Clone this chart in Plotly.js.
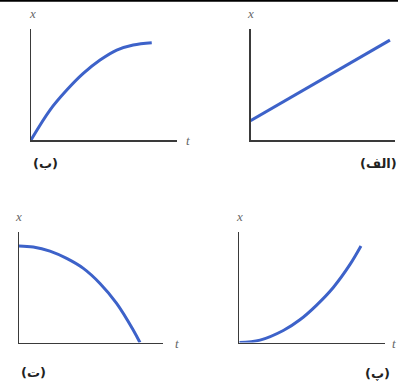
<!DOCTYPE html>
<html>
<head>
<meta charset="utf-8">
<script src="https://cdn.plot.ly/plotly-3.0.1.min.js"></script>
<style>html,body{margin:0;padding:0;background:#fff;}#chart{width:398px;height:382px;}</style>
</head>
<body>
<div id="chart"></div>
<script>
// Panel (ب) top-left: concave rise
const tB = [0, 0.13, 0.245, 0.358, 0.473, 0.587, 0.70, 0.827];
const xB = [0, 0.27, 0.45, 0.60, 0.72, 0.81, 0.856, 0.877];
// Panel (الف) top-right: straight line
const tA = [0, 0.965];
const xA = [0.174, 0.90];
// Panel (ت) bottom-left: falling, concave down
const tT = [0, 0.099, 0.215, 0.331, 0.447, 0.5625, 0.678, 0.794, 0.84];
const xT = [0.871, 0.862, 0.825, 0.759, 0.669, 0.533, 0.353, 0.111, 0];
// Panel (پ) bottom-right: rising, concave up
const tP = [0, 0.142, 0.302, 0.416, 0.531, 0.645, 0.760, 0.835];
const xP = [0, 0.021, 0.108, 0.205, 0.338, 0.497, 0.705, 0.871];
const panelLabels = ['(ب)', '(الف)', '(ت)', '(پ)'];
const axisNames = ['x', 't'];

const W = 398, H = 382;
const px = v => v / W;
const py = v => 1 - v / H;
const blue = '#3d62c9';
const lineStyle = {color: blue, width: 3, shape: 'spline', smoothing: 1};

const traces = [
  {x: tB, y: xB, xaxis: 'x', yaxis: 'y', mode: 'lines', line: lineStyle, hoverinfo: 'skip'},
  {x: tA, y: xA, xaxis: 'x2', yaxis: 'y2', mode: 'lines', line: {color: blue, width: 3}, hoverinfo: 'skip'},
  {x: tT, y: xT, xaxis: 'x3', yaxis: 'y3', mode: 'lines', line: lineStyle, hoverinfo: 'skip'},
  {x: tP, y: xP, xaxis: 'x4', yaxis: 'y4', mode: 'lines', line: lineStyle, hoverinfo: 'skip'}
];

function ax(d0, d1, anchor) {
  return {domain: [d0, d1], range: [0, 1], anchor: anchor, showline: true, linecolor: '#3a3a3a', linewidth: 1.5,
          showgrid: false, zeroline: false, showticklabels: false, ticks: '', fixedrange: true};
}

// panel pixel boxes: [left, right, bottom, top]
const boxes = [[31, 177, 140, 29], [250.5, 395, 140, 29], [19, 163, 342.5, 231.7], [239.3, 385, 342.5, 231.7]];
const layout = {
  width: W, height: H, margin: {l: 0, r: 0, t: 0, b: 0},
  paper_bgcolor: '#fff', plot_bgcolor: 'rgba(0,0,0,0)', showlegend: false,
  annotations: [], shapes: [
    {type: 'line', xref: 'paper', yref: 'paper', x0: 0, x1: 1, y0: py(0.8), y1: py(0.8), line: {color: '#000', width: 2}}
  ]
};
const names = ['', '2', '3', '4'];
boxes.forEach((b, i) => {
  layout['xaxis' + names[i]] = ax(px(b[0]), px(b[1]), 'y' + names[i]);
  layout['yaxis' + names[i]] = ax(py(b[2]), py(b[3]), 'x' + names[i]);
});

const txt = (s, x, y, opt) => Object.assign({text: s, x: px(x), y: py(y), xref: 'paper', yref: 'paper',
  showarrow: false, xanchor: 'center', yanchor: 'middle'}, opt);
const axFont = {family: 'Liberation Serif, DejaVu Serif, serif', size: 13, color: '#666'};
const lblFont = {family: 'DejaVu Sans, Noto Sans, sans-serif', size: 13, color: '#222'};
layout.annotations.push(
  txt('<i>' + axisNames[0] + '</i>', 32, 13, {font: axFont}),
  txt('<i>' + axisNames[1] + '</i>', 188, 140, {font: axFont}),
  txt('<i>' + axisNames[0] + '</i>', 250, 14, {font: axFont}),
  txt('<i>' + axisNames[0] + '</i>', 18, 216, {font: axFont}),
  txt('<i>' + axisNames[1] + '</i>', 177, 343, {font: axFont}),
  txt('<i>' + axisNames[0] + '</i>', 239, 216, {font: axFont}),
  txt('<i>' + axisNames[1] + '</i>', 398, 343, {font: axFont, xanchor: 'right'}),
  txt('<b>' + panelLabels[0] + '</b>', 45, 163, {font: lblFont}),
  txt('<b>' + panelLabels[1] + '</b>', 378, 163, {font: lblFont}),
  txt('<b>' + panelLabels[2] + '</b>', 33, 372, {font: lblFont}),
  txt('<b>' + panelLabels[3] + '</b>', 377, 373, {font: lblFont})
);

Plotly.newPlot('chart', traces, layout, {staticPlot: true, displayModeBar: false});
</script>
</body>
</html>
